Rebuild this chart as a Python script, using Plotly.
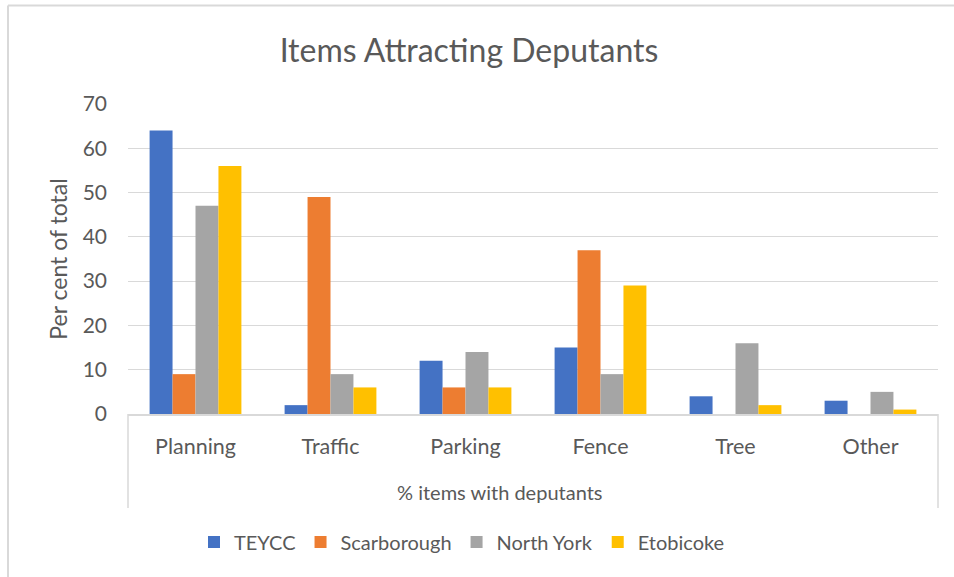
import plotly.graph_objects as go

categories = ["Planning", "Traffic", "Parking", "Fence", "Tree", "Other"]
teycc = [64, 2, 12, 15, 4, 3]
scarborough = [9, 49, 6, 37, 0, 0]
north_york = [47, 9, 14, 9, 16, 5]
etobicoke = [56, 6, 6, 29, 2, 1]

series = [
    ("TEYCC", teycc, "#4472C4"),
    ("Scarborough", scarborough, "#ED7D31"),
    ("North York", north_york, "#A5A5A5"),
    ("Etobicoke", etobicoke, "#FFC000"),
]

FONT = "Lato, Calibri, sans-serif"
TXT = "#595959"
GRID = "#D9D9D9"

W, H = 954, 577
L, R, T, B = 128, 938, 104, 414


def px(x):
    return (x - L) / (R - L)


def py(y):
    return (B - y) / (B - T)


fig = go.Figure()
for name, vals, color in series:
    fig.add_trace(go.Bar(name=name, x=categories, y=vals, marker_color=color,
                         marker_line_width=0))

fig.update_layout(
    width=W, height=H,
    margin=dict(l=L, r=W - R, t=T, b=H - B),
    paper_bgcolor="white", plot_bgcolor="white",
    barmode="group", bargap=0.32, bargroupgap=0,
    font=dict(family=FONT, color=TXT, size=20),
    title=dict(text="Items Attracting Deputants", x=469 / W, xanchor="center",
               y=1 - 51 / H, yanchor="middle",
               font=dict(size=32, color=TXT, family=FONT)),
    legend=dict(orientation="h", x=px(194), xanchor="left", y=py(542), yanchor="middle",
                font=dict(size=20, color=TXT), traceorder="normal", itemwidth=30),
    showlegend=True,
)
fig.update_yaxes(range=[0, 70], dtick=10, showgrid=True, gridcolor=GRID, gridwidth=1,
                 zeroline=False, showline=False, ticks="", ticklabelstandoff=20,
                 tickfont=dict(size=21, color=TXT),
                 title=dict(text="Per cent of total", font=dict(size=23, color=TXT), standoff=8))
fig.update_xaxes(showline=True, linecolor=GRID, linewidth=1.5, ticks="", showgrid=False,
                 ticklabelstandoff=12, tickfont=dict(size=21.5, color=TXT))

fig.add_annotation(text="% items with deputants", xref="paper", yref="paper",
                   x=px(500), y=py(492), xanchor="center", yanchor="middle",
                   showarrow=False, font=dict(size=20, color=TXT))

line = dict(color=GRID, width=1.5)
# multi-level axis box sides
fig.add_shape(type="line", xref="paper", yref="paper", x0=0, x1=0, y0=0, y1=py(508), line=line)
fig.add_shape(type="line", xref="paper", yref="paper", x0=1, x1=1, y0=0, y1=py(508), line=line)
# chart area frame (top and left visible)
fig.add_shape(type="line", xref="paper", yref="paper", x0=px(8), x1=px(960),
              y0=py(5.5), y1=py(5.5), line=dict(color=GRID, width=2))
fig.add_shape(type="line", xref="paper", yref="paper", x0=px(8), x1=px(8),
              y0=py(5.5), y1=py(580), line=dict(color=GRID, width=2))

# drop the default 8px page margin so the figure sits at the window origin
fig.write_html("out.html", config={"displayModeBar": False},
               post_script="document.body.style.margin='0';")
